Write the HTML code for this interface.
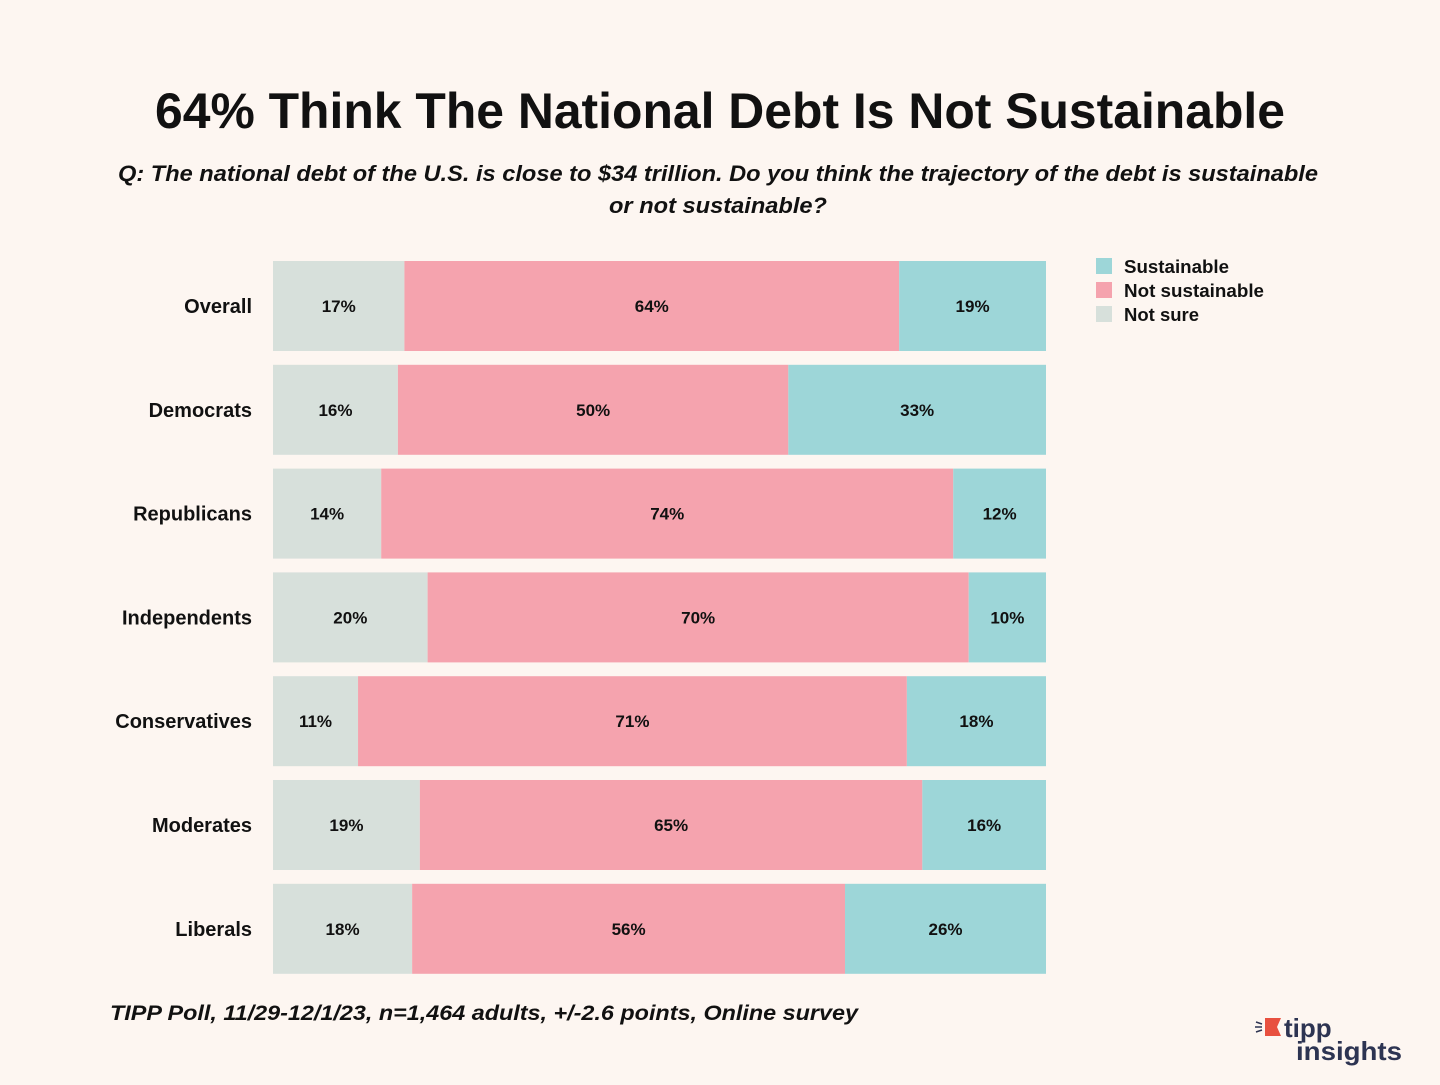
<!DOCTYPE html>
<html><head><meta charset="utf-8">
<style>
html,body{margin:0;padding:0;background:#fdf6f1;}
body{width:1440px;height:1080px;overflow:hidden;font-family:"Liberation Sans",sans-serif;}
</style></head>
<body>
<svg id="chart" width="1440" height="1080" xmlns="http://www.w3.org/2000/svg">
<rect width="1440" height="1080" fill="#fdf6f1"/>
<text x="720" y="128" text-anchor="middle" font-family="Liberation Sans, sans-serif" font-weight="bold" font-size="50" fill="#111" textLength="1130" lengthAdjust="spacingAndGlyphs">64% Think The National Debt Is Not Sustainable</text>
<text x="718" y="181" text-anchor="middle" font-family="Liberation Sans, sans-serif" font-style="italic" font-weight="bold" font-size="22" fill="#111" textLength="1200" lengthAdjust="spacingAndGlyphs">Q: The national debt of the U.S. is close to $34 trillion. Do you think the trajectory of the debt is sustainable</text>
<text x="718" y="213" text-anchor="middle" font-family="Liberation Sans, sans-serif" font-style="italic" font-weight="bold" font-size="22" fill="#111" textLength="218" lengthAdjust="spacingAndGlyphs">or not sustainable?</text>
<g id="bars"></g>
<g>
<rect x="1096" y="258" width="16" height="16" fill="#9dd6d8"/>
<text x="1124" y="273" font-size="18" font-weight="bold" fill="#111" textLength="105" lengthAdjust="spacingAndGlyphs">Sustainable</text>
<rect x="1096" y="282" width="16" height="16" fill="#f5a3ae"/>
<text x="1124" y="297" font-size="18" font-weight="bold" fill="#111" textLength="140" lengthAdjust="spacingAndGlyphs">Not sustainable</text>
<rect x="1096" y="306" width="16" height="16" fill="#d7e0db"/>
<text x="1124" y="321" font-size="18" font-weight="bold" fill="#111" textLength="75" lengthAdjust="spacingAndGlyphs">Not sure</text>
</g>
<text x="110" y="1020" font-style="italic" font-weight="bold" font-size="21" fill="#111" textLength="748" lengthAdjust="spacingAndGlyphs">TIPP Poll, 11/29-12/1/23, n=1,464 adults, +/-2.6 points, Online survey</text>
<g>
<polygon points="1265,1018 1281,1018 1277,1027 1281,1036 1265,1036" fill="#e8503f"/>
<path d="M1256,1022 l6,2 M1255,1027 l7,0 M1256,1032 l6,-2" stroke="#2d3452" stroke-width="1.5"/>
<text x="1284" y="1037" font-size="26" font-weight="bold" fill="#2d3452">tipp</text>
<text x="1296" y="1060" font-size="26" font-weight="bold" fill="#2d3452" textLength="106" lengthAdjust="spacingAndGlyphs">insights</text>
</g>
</svg>
<script>
const categories = ["Overall","Democrats","Republicans","Independents","Conservatives","Moderates","Liberals"];
const notSure = [17,16,14,20,11,19,18];
const notSustainable = [64,50,74,70,71,65,56];
const sustainable = [19,33,12,10,18,16,26];

const NS = "http://www.w3.org/2000/svg";
const g = document.getElementById("bars");
const x0 = 273, plotW = 773, y0 = 261, step = 103.8, barH = 90;
function xScale(v, total){ return v / total * plotW; }
function yScale(i){ return y0 + i * step; }
function mk(tag, attrs){ const e = document.createElementNS(NS, tag); for (const k in attrs) e.setAttribute(k, attrs[k]); return e; }
const series = [
  {vals: notSure, color: "#d7e0db", key: "not-sure"},
  {vals: notSustainable, color: "#f5a3ae", key: "not-sustainable"},
  {vals: sustainable, color: "#9dd6d8", key: "sustainable"}
];
categories.forEach((c, i) => {
  const y = yScale(i);
  const lab = mk("text", {x: 252, y: y + barH/2 + 7, "text-anchor": "end", "font-size": 20, "font-weight": "bold", fill: "#111"});
  lab.textContent = c;
  
  
  g.appendChild(lab);
  const total = notSure[i] + notSustainable[i] + sustainable[i];
  let x = x0;
  series.forEach(s => {
    const w = xScale(s.vals[i], total);
    const r = mk("rect", {x: x, y: y, width: w, height: barH, fill: s.color});
    
    
    g.appendChild(r);
    const t = mk("text", {x: x + w/2, y: y + barH/2 + 6, "text-anchor": "middle", "font-size": 17, "font-weight": "bold", fill: "#111"});
    t.textContent = s.vals[i] + "%";
    
    
    g.appendChild(t);
    x += w;
  });
});
</script>
</body></html>
